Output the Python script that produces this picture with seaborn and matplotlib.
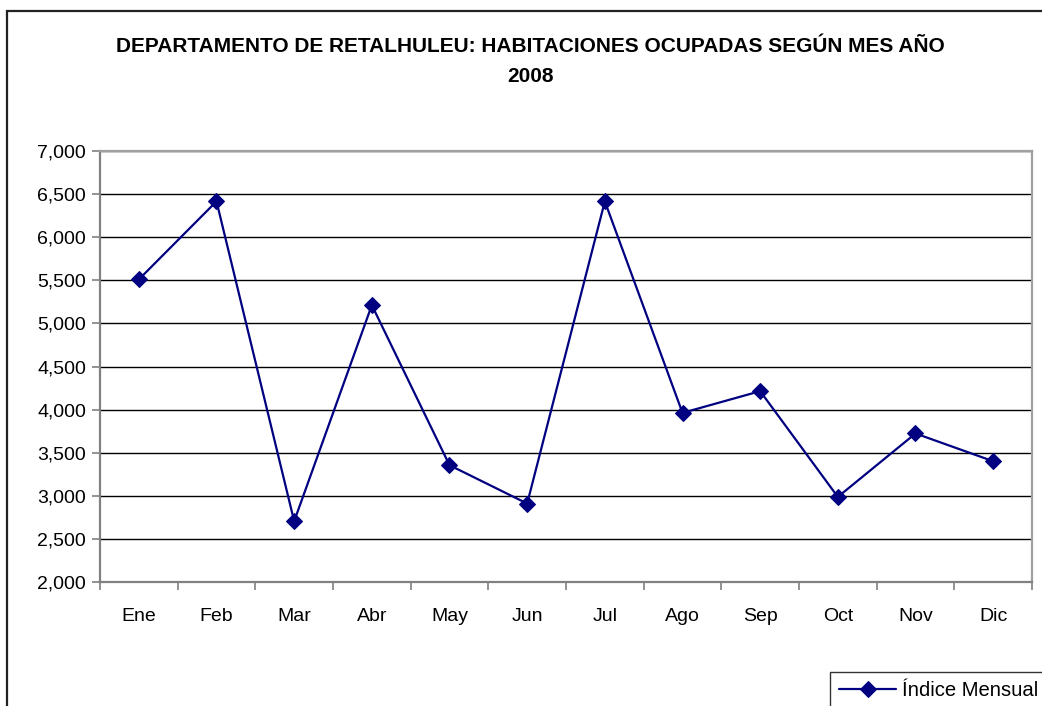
import numpy as np
import pandas as pd
import seaborn as sns
import matplotlib.pyplot as plt
from matplotlib.patches import Rectangle
from matplotlib.ticker import FuncFormatter, FixedLocator

# Data
months = ['Ene', 'Feb', 'Mar', 'Abr', 'May', 'Jun',
          'Jul', 'Ago', 'Sep', 'Oct', 'Nov', 'Dic']
occupied_rooms = [5510, 6416, 2705, 5212, 3355, 2910,
                  6416, 3962, 4214, 2987, 3723, 3401]
series_name = 'Índice Mensual'
title_lines = ['DEPARTAMENTO DE RETALHULEU: HABITACIONES OCUPADAS SEGÚN MES AÑO', '2008']
y_ticks = [2000, 2500, 3000, 3500, 4000, 4500, 5000, 5500, 6000, 6500, 7000]

df = pd.DataFrame({'mes': months, 'habitaciones': occupied_rooms})
df['pos'] = np.arange(len(df))

sns.set_theme(style='white')
plt.rcParams['font.family'] = ['Liberation Sans', 'DejaVu Sans']
plt.rcParams['text.color'] = 'black'

W, H = 1042, 706
fig = plt.figure(figsize=(W / 100, H / 100), dpi=100)
fig.patch.set_facecolor('white')

# outer chart frame (runs off the right and bottom edges)
fig.patches.append(Rectangle((7 / W, -0.05), 1.2, 1 - 11 / H + 0.05,
                             transform=fig.transFigure, fill=False,
                             edgecolor='#222222', linewidth=1.6, zorder=0))

ax = fig.add_axes([100 / W, 1 - 582 / H, (1032 - 100) / W, (582 - 151) / H])
ax.set_facecolor('white')

sns.lineplot(data=df, x='pos', y='habitaciones', ax=ax, color='#000080',
             marker='D', markersize=8, markeredgecolor='#000080',
             linewidth=1.6, label=series_name, sort=False)

ax.set_xlim(-0.5, len(months) - 0.5)
ax.set_ylim(2000, 7000)
ax.set_yticks(y_ticks)
ax.yaxis.set_major_formatter(FuncFormatter(lambda v, _: f'{v:,.0f}'))
ax.yaxis.grid(True, color='black', linewidth=1.0)
ax.set_axisbelow(True)

ax.set_xticks(df['pos'])
ax.set_xticklabels(months)
ax.xaxis.set_minor_locator(FixedLocator(np.arange(-0.5, len(months) + 0.5, 1)))
ax.tick_params(axis='x', which='major', length=0, pad=19, labelsize=14, colors='black')
ax.tick_params(axis='x', which='minor', length=6, width=1.2, color='#808080', direction='out', bottom=True)
ax.tick_params(axis='y', which='major', length=6, width=1.2, color='#808080', direction='out',
               left=True, labelsize=14, colors='black', pad=4)
ax.set_xlabel('')
ax.set_ylabel('')

for side in ['left', 'bottom']:
    ax.spines[side].set_color('#808080')
    ax.spines[side].set_linewidth(1.6)
for side in ['top', 'right']:
    ax.spines[side].set_color('#a0a0a0')
    ax.spines[side].set_linewidth(1.6)

for line, ypix in zip(title_lines, [46, 77]):
    fig.text(530 / W, 1 - ypix / H, line, ha='center', va='center', fontsize=15,
             fontweight='bold', color='black')

ax.legend(loc='upper left', bbox_to_anchor=(830 / W, 1 - 672 / H),
          bbox_transform=fig.transFigure, frameon=True, fancybox=False,
          edgecolor='black', fontsize=14.6, handlelength=2.8, borderpad=0.45,
          borderaxespad=0, handletextpad=0.3, labelcolor='black')
leg = ax.get_legend()
leg.get_frame().set_linewidth(1.0)

fig.savefig('out.png', dpi=100, facecolor='white')
plt.close(fig)
